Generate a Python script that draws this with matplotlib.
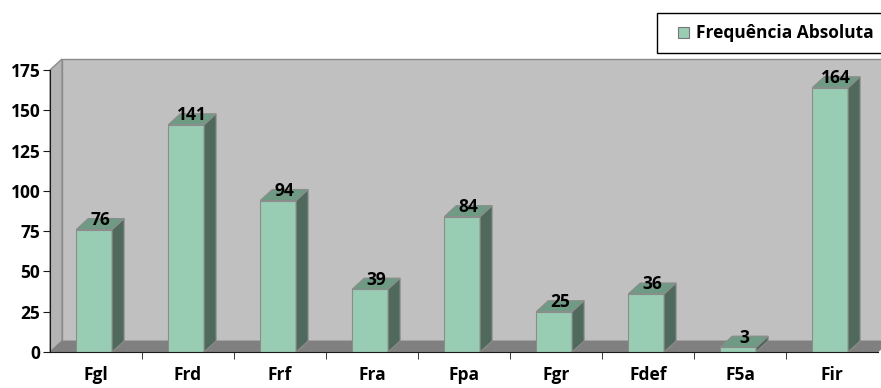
import matplotlib
matplotlib.use("Agg")
import matplotlib.pyplot as plt
from matplotlib.patches import Polygon, Rectangle

categories = ["Fgl", "Frd", "Frf", "Fra", "Fpa", "Fgr", "Fdef", "F5a", "Fir"]
values = [76, 141, 94, 39, 84, 25, 36, 3, 164]
yticks = [0, 25, 50, 75, 100, 125, 150, 175]
series_name = "Frequência Absoluta"

FONT = "Open Sans"
FS = 12.5
face_front = "#99CDB3"
face_side = "#4F6A5C"
face_top = "#6F9A84"
edge = "#8C8C8C"
wall = "#C0C0C0"
floor = "#808080"

W, H, DPI = 881, 388, 100
fig = plt.figure(figsize=(W / DPI, H / DPI), dpi=DPI)
left, right, bottom, top = 50, 878, 352, 70
ax = fig.add_axes([left / W, (H - bottom) / H, (right - left) / W, (bottom - top) / H])
n = len(categories)
ymax = 175
ax.set_xlim(0, n)
ax.set_ylim(0, ymax)

# depth of the pseudo-3D extrusion, converted from pixels to data units
dpx, dpy = 12, 11
ddx = dpx * n / (right - left)
ddy = dpy * ymax / (bottom - top)

# back wall, side wall and floor
ax.add_patch(Polygon([(ddx, ddy), (n + ddx, ddy), (n + ddx, ymax + ddy), (ddx, ymax + ddy)],
                     closed=True, fc=wall, ec=edge, lw=1.0, clip_on=False, zorder=0))
ax.add_patch(Polygon([(0, 0), (ddx, ddy), (ddx, ymax + ddy), (0, ymax)],
                     closed=True, fc="#B4B4B4", ec=edge, lw=1.0, clip_on=False, zorder=0))
ax.add_patch(Polygon([(0, 0), (n, 0), (n + ddx, ddy), (ddx, ddy)],
                     closed=True, fc=floor, ec=floor, lw=0.5, clip_on=False, zorder=1))

bw = 0.39
for i, v in enumerate(values):
    x0 = i + 0.5 - bw / 2 - 0.02
    x1 = x0 + bw
    ax.bar(x0, v, width=bw, align="edge", color=face_front, edgecolor=edge, lw=0.8, zorder=3)
    ax.add_patch(Polygon([(x1, 0), (x1 + ddx, ddy), (x1 + ddx, v + ddy), (x1, v)],
                         closed=True, fc=face_side, ec=edge, lw=0.8, zorder=3, clip_on=False))
    ax.add_patch(Polygon([(x0, v), (x1, v), (x1 + ddx, v + ddy), (x0 + ddx, v + ddy)],
                         closed=True, fc=face_top, ec=edge, lw=0.8, zorder=3, clip_on=False))
    ax.text((x0 + x1 + ddx) / 2, v + ddy * 0.05, str(v), ha="center", va="bottom",
            fontsize=FS, fontweight="bold", family=FONT, zorder=5)

for s in ["top", "right"]:
    ax.spines[s].set_visible(False)
ax.spines["left"].set_color("#1a1a1a")
ax.spines["bottom"].set_color("#1a1a1a")
ax.spines["left"].set_zorder(4)
ax.spines["bottom"].set_zorder(4)
ax.set_facecolor("none")

ax.set_yticks(yticks)
ax.set_yticklabels([str(t) for t in yticks], fontsize=FS, fontweight="bold", family=FONT)
ax.set_xticks([i + 0.5 for i in range(n)])
ax.set_xticklabels(categories, fontsize=FS, fontweight="bold", family=FONT)
ax.set_xticks(list(range(1, n)), minor=True)
ax.tick_params(axis="x", which="major", length=0, pad=10)
ax.tick_params(axis="x", which="minor", length=5, direction="out", color="#1a1a1a")
ax.tick_params(axis="y", length=5, direction="out", color="#1a1a1a", pad=2)

# legend box
lx0, ly0, lx1, ly1 = 657, 13, 882, 53
fig.patches.append(Rectangle((lx0 / W, 1 - ly1 / H), (lx1 - lx0) / W, (ly1 - ly0) / H,
                             transform=fig.transFigure, fc="white", ec="black", lw=1.0))
fig.patches.append(Rectangle((678 / W, 1 - 38 / H), 11 / W, 11 / H,
                             transform=fig.transFigure, fc=face_front, ec="#777777", lw=0.8))
fig.text(696 / W, 1 - 32.5 / H, series_name, ha="left", va="center",
         fontsize=FS, fontweight="bold", family=FONT)

fig.savefig("out.png", dpi=DPI)
